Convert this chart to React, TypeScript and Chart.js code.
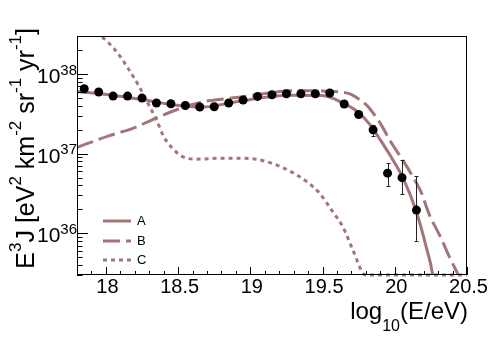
import React, { useEffect, useRef } from 'react';
import { Chart, registerables } from 'chart.js';

Chart.register(...registerables);

// ---- data ----
const energy = [17.85, 17.95, 18.05, 18.15, 18.25, 18.35, 18.45, 18.55, 18.65, 18.75, 18.85, 18.95,
  19.05, 19.15, 19.25, 19.35, 19.45, 19.55, 19.65, 19.75, 19.85, 19.95, 20.05, 20.15];
const flux = [6.53e37, 5.94e37, 5.28e37, 5.28e37, 4.99e37, 4.32e37, 4.23e37, 4.03e37, 3.85e37, 3.88e37, 4.32e37, 4.71e37,
  5.23e37, 5.5e37, 5.65e37, 5.65e37, 5.65e37, 5.77e37, 4.2e37, 3.1e37, 1.99e37, 5.69e36, 5.0e36, 1.96e36];
const fluxErrLow: (number | null)[] = [null, null, null, null, null, null, null, null, null, null, null, null,
  null, null, null, null, null, null, null, null, 1.67e37, 3.94e36, 3.09e36, 8.07e35];
const fluxErrHigh: (number | null)[] = [null, null, null, null, null, null, null, null, null, null, null, null,
  null, null, null, null, null, null, null, null, 2.3e37, 7.6e36, 8.36e36, 5.25e36];

const curveAEnergy = [17.8, 18.02, 18.26, 18.46, 18.67, 18.87, 19.07, 19.28, 19.5, 19.64, 19.74, 19.83, 19.9,
  19.97, 20.06, 20.15, 20.22, 20.26, 20.28];
const curveAFlux = [6.03e37, 5.5e37, 4.75e37, 4.11e37, 3.85e37, 4.37e37, 5.01e37, 5.41e37, 5.37e37, 4.32e37, 3.39e37,
  2.3e37, 1.49e37, 9.4e36, 4.82e36, 1.85e36, 6.5e35, 3.16e35, 1.5e35];

const curveBEnergy = [17.8, 17.86, 18.02, 18.19, 18.32, 18.49, 18.68, 18.77, 18.95, 19.14, 19.28, 19.57, 19.69, 19.74,
  19.81, 19.85, 19.9, 19.97, 20.04, 20.11, 20.18, 20.24, 20.31, 20.38, 20.43, 20.46];
const curveBFlux = [1.2e37, 1.315e37, 1.675e37, 2.09e37, 2.66e37, 3.56e37, 4.52e37, 4.75e37, 5.18e37, 5.82e37, 6.17e37,
  6.03e37, 5.62e37, 5.01e37, 3.98e37, 3.24e37, 2.4e37, 1.43e37, 9.12e36, 5.73e36, 3.36e36, 1.7e36, 9.5e35, 5.0e35,
  3.26e35, 2.5e35];

const curveCEnergy = [17.85, 17.9, 17.96, 18.02, 18.09, 18.16, 18.23, 18.29, 18.35, 18.4, 18.46, 18.53, 18.62, 18.81,
  18.93, 19.04, 19.16, 19.28, 19.39, 19.48, 19.57, 19.64, 19.71, 19.78, 19.8, 20.5];
const curveCFlux = [4.6e38, 3.8e38, 3.05e38, 2.45e38, 1.75e38, 1.13e38, 6.98e37, 4.32e37, 2.66e37, 1.64e37, 1.17e37,
  9.2e36, 8.53e36, 8.77e36, 8.77e36, 8.53e36, 7.45e36, 5.96e36, 4.46e36, 3.18e36, 1.87e36, 1.21e36, 6.17e35, 3.14e35,
  3e35, 3e35];

const xTickValues = [18, 18.5, 19, 19.5, 20, 20.5];
const xTickLabels = ['18', '18.5', '19', '19.5', '20', '20.5'];
const yTickExponents = [36, 37, 38];
const legendLabels = ['A', 'B', 'C'];

// ---- styles ----
const FONT = '"Liberation Sans", Arial, Helvetica, sans-serif';
const CURVE_COLOR = 'rgb(163,117,120)';
const DASH_B = [17, 6];
const DASH_C = [4, 4];
const X_MIN = 17.8, X_MAX = 20.5, Y_MIN = 3e35, Y_MAX = 3e38;

type Seg = { t: string; size: number; dy: number };

function drawRich(ctx: CanvasRenderingContext2D, segs: Seg[], x: number, y: number, align: 'left' | 'right' | 'center') {
  let w = 0;
  const widths: number[] = [];
  for (const s of segs) {
    ctx.font = `${s.size}px ${FONT}`;
    const m = ctx.measureText(s.t).width;
    widths.push(m);
    w += m;
  }
  let cx = align === 'left' ? x : align === 'right' ? x - w : x - w / 2;
  ctx.textAlign = 'left';
  ctx.textBaseline = 'alphabetic';
  segs.forEach((s, i) => {
    ctx.font = `${s.size}px ${FONT}`;
    ctx.fillText(s.t, cx, y + s.dy);
    cx += widths[i];
  });
}

const rootStyle = {
  id: 'rootStyle',
  beforeDatasetDraw(chart: any, args: any) {
    if (args.index !== 0) return;
    const { ctx } = chart;
    const xs = chart.scales.x, ys = chart.scales.y;
    ctx.save();
    ctx.strokeStyle = '#222';
    ctx.lineWidth = 1;
    energy.forEach((e, i) => {
      const lo = fluxErrLow[i], hi = fluxErrHigh[i];
      if (lo == null || hi == null) return;
      const px = Math.round(xs.getPixelForValue(e)) + 0.5;
      const y1 = ys.getPixelForValue(hi), y2 = ys.getPixelForValue(lo);
      ctx.beginPath();
      ctx.moveTo(px, y1); ctx.lineTo(px, y2);
      ctx.moveTo(px - 2, Math.round(y1) + 0.5); ctx.lineTo(px + 2, Math.round(y1) + 0.5);
      ctx.moveTo(px - 2, Math.round(y2) + 0.5); ctx.lineTo(px + 2, Math.round(y2) + 0.5);
      ctx.stroke();
    });
    ctx.restore();
  },
  afterDatasetsDraw(chart: any) {
    const { ctx, chartArea } = chart;
    const { left, right, top, bottom } = chartArea;
    const xs = chart.scales.x, ys = chart.scales.y;
    ctx.save();
    ctx.strokeStyle = '#000';
    ctx.fillStyle = '#000';
    ctx.lineWidth = 1;
    ctx.setLineDash([]);
    // frame
    ctx.strokeRect(left + 0.5, top + 0.5, right - left - 1, bottom - top - 1);
    // x ticks
    ctx.beginPath();
    for (let k = Math.ceil(X_MIN * 10 - 1e-6); k <= Math.floor(X_MAX * 10 + 1e-6); k++) {
      const v = k / 10;
      const px = Math.round(xs.getPixelForValue(v)) + 0.5;
      const major = k % 5 === 0;
      ctx.moveTo(px, bottom);
      ctx.lineTo(px, bottom - (major ? 8 : 4));
    }
    // y ticks
    for (let d = 35; d <= 38; d++) {
      for (let k = 1; k <= 9; k++) {
        const v = k * Math.pow(10, d);
        if (v < Y_MIN * 0.999 || v > Y_MAX * 1.001) continue;
        const py = Math.round(ys.getPixelForValue(v)) + 0.5;
        ctx.moveTo(left, py);
        ctx.lineTo(left + (k === 1 ? 11 : 5.5), py);
      }
    }
    ctx.stroke();
    // x tick labels
    ctx.font = `20px ${FONT}`;
    ctx.textAlign = 'center';
    ctx.textBaseline = 'alphabetic';
    xTickValues.forEach((v, i) => {
      const px = xs.getPixelForValue(v);
      ctx.fillText(xTickLabels[i], px + 1.5, 293);
    });
    // y tick labels
    yTickExponents.forEach((e) => {
      const py = ys.getPixelForValue(Math.pow(10, e));
      drawRich(ctx, [{ t: '10', size: 21, dy: 0 }, { t: String(e), size: 15, dy: -8.5 }], left, py + 9, 'right');
    });
    // x title
    drawRich(ctx, [
      { t: 'log', size: 24, dy: 0 },
      { t: '10', size: 16, dy: 12 },
      { t: '(E/eV)', size: 24, dy: 0 },
    ], right + 1, 319, 'right');
    // y title
    ctx.save();
    ctx.translate(33.5, 28);
    ctx.rotate(-Math.PI / 2);
    drawRich(ctx, [
      { t: 'E', size: 25, dy: 0 },
      { t: '3', size: 17, dy: -12.5 },
      { t: 'J [eV', size: 25, dy: 0 },
      { t: '2', size: 17, dy: -12.5 },
      { t: ' km', size: 25, dy: 0 },
      { t: '-2', size: 17, dy: -12.5 },
      { t: ' sr', size: 25, dy: 0 },
      { t: '-1', size: 17, dy: -12.5 },
      { t: ' yr', size: 25, dy: 0 },
      { t: '-1', size: 17, dy: -12.5 },
      { t: ']', size: 25, dy: 0 },
    ], 0, 0, 'right');
    ctx.restore();
    // legend
    const dashes = [[], DASH_B, DASH_C];
    const legY = [221, 241, 260];
    legendLabels.forEach((lab, i) => {
      ctx.save();
      ctx.strokeStyle = CURVE_COLOR;
      ctx.lineWidth = 3;
      ctx.setLineDash(dashes[i]);
      ctx.beginPath();
      ctx.moveTo(103, legY[i]);
      ctx.lineTo(131, legY[i]);
      ctx.stroke();
      ctx.restore();
      ctx.fillStyle = '#000';
      ctx.font = `13px ${FONT}`;
      ctx.textAlign = 'left';
      ctx.textBaseline = 'middle';
      ctx.fillText(lab, 137, legY[i] + 0.5);
    });
    ctx.restore();
  },
};

function pts(xs: number[], ys: number[]) {
  return xs.map((x, i) => ({ x, y: ys[i] }));
}

export default function App() {
  const ref = useRef<HTMLCanvasElement>(null);
  useEffect(() => {
    const canvas = ref.current!;
    const curveBase = {
      type: 'line' as const,
      showLine: true,
      pointRadius: 0,
      borderWidth: 3,
      borderColor: CURVE_COLOR,
      backgroundColor: CURVE_COLOR,
      fill: false,
      cubicInterpolationMode: 'monotone' as const,
      borderCapStyle: 'butt' as const,
    };
    const chart = new Chart(canvas, {
      type: 'line',
      data: {
        datasets: [
          {
            type: 'scatter',
            label: 'data',
            data: pts(energy, flux),
            pointRadius: 4.5,
            pointHoverRadius: 4.5,
            backgroundColor: '#000',
            borderWidth: 0,
            showLine: false,
            order: 0,
          } as any,
          { ...curveBase, label: 'A', data: pts(curveAEnergy, curveAFlux), order: 1, clip: 0 } as any,
          { ...curveBase, label: 'B', data: pts(curveBEnergy, curveBFlux), borderDash: DASH_B, order: 2, clip: 0 } as any,
          {
            ...curveBase, label: 'C', data: pts(curveCEnergy, curveCFlux), borderDash: DASH_C, order: 3,
            clip: { left: 0, top: 0, right: 0, bottom: 2 },
          } as any,
        ],
      },
      options: {
        responsive: false,
        animation: false,
        devicePixelRatio: 1,
        events: [],
        layout: { padding: { left: 77, right: 31, top: 36, bottom: 64 } },
        scales: {
          x: { type: 'linear', min: X_MIN, max: X_MAX, display: false },
          y: { type: 'logarithmic', min: Y_MIN, max: Y_MAX, display: false },
        },
        plugins: {
          legend: { display: false },
          tooltip: { enabled: false },
          title: { display: false },
        },
      },
      plugins: [rootStyle],
    });
    return () => chart.destroy();
  }, []);
  return (
    <div style={{ position: 'absolute', left: 0, top: 0, width: 498, height: 339, background: '#fff' }}>
      <canvas ref={ref} width={498} height={339} style={{ display: 'block', width: 498, height: 339 }} />
    </div>
  );
}
